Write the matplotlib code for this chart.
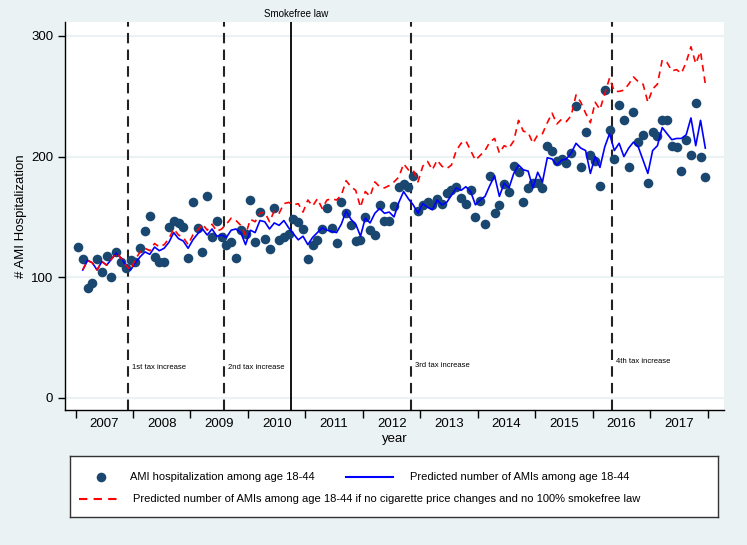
import numpy as np
import matplotlib.pyplot as plt

plt.rcParams['font.family'] = ['Liberation Sans', 'DejaVu Sans']

# monthly data, Jan 2007 .. Dec 2017
years = ['2007', '2008', '2009', '2010', '2011', '2012',
         '2013', '2014', '2015', '2016', '2017']

ami = [125, 115, 91, 95, 115, 104, 118, 100, 121, 113, 108, 114,
       113, 124, 138, 151, 117, 113, 113, 142, 147, 145, 142, 116,
       162, 141, 121, 167, 133, 147, 133, 127, 129, 116, 139, 136,
       164, 129, 154, 132, 123, 157, 131, 133, 136, 148, 146, 140,
       115, 127, 131, 140, 157, 141, 128, 162, 153, 143, 130, 131,
       150, 139, 135, 160, 147, 147, 159, 175, 177, 175, 184, 155,
       160, 162, 160, 165, 161, 170, 172, 175, 166, 161, 172, 150,
       163, 144, 184, 153, 160, 177, 171, 192, 187, 162, 174, 178,
       178, 174, 209, 205, 196, 198, 195, 203, 242, 191, 220, 201,
       196, 176, 255, 222, 198, 243, 230, 191, 237, 212, 218, 178,
       220, 217, 230, 230, 209, 208, 188, 214, 201, 244, 200, 183]

predicted = [np.nan, 106, 114, 112, 106, 113, 110, 115, 120, 116, 110, 106,
             112, 117, 121, 119, 125, 122, 124, 129, 137, 132, 130, 124,
             131, 136, 140, 135, 140, 134, 135, 133, 139, 140, 137, 127,
             139, 137, 147, 146, 140, 145, 143, 147, 141, 136, 131, 134,
             127, 133, 137, 141, 139, 138, 137, 144, 155, 148, 144, 134,
             149, 145, 153, 157, 153, 154, 150, 162, 171, 165, 160, 153,
             161, 158, 156, 164, 160, 162, 168, 174, 172, 175, 171, 160,
             164, 167, 176, 184, 167, 178, 174, 186, 193, 189, 188, 174,
             187, 179, 199, 198, 193, 197, 198, 203, 211, 207, 205, 186,
             200, 191, 208, 219, 205, 211, 200, 207, 212, 208, 197, 186,
             205, 209, 224, 219, 214, 215, 215, 218, 232, 209, 230, 207]

no_policy = [np.nan, 106, 114, 112, 106, 113, 110, 115, 120, 116, 110, 106,
             115, 121, 124, 122, 128, 125, 127, 132, 140, 135, 133, 127,
             135, 139, 144, 139, 144, 138, 140, 144, 149, 147, 143, 135,
             148, 146, 153, 154, 146, 155, 153, 161, 162, 160, 161, 154,
             164, 159, 165, 157, 164, 165, 164, 168, 180, 175, 172, 158,
             171, 167, 179, 175, 174, 176, 179, 183, 194, 189, 189, 179,
             192, 196, 189, 197, 192, 190, 193, 205, 211, 213, 205, 197,
             201, 205, 212, 215, 203, 209, 207, 213, 230, 221, 220, 211,
             218, 219, 228, 236, 227, 231, 229, 234, 251, 245, 236, 228,
             245, 239, 252, 265, 254, 254, 255, 260, 266, 262, 260, 245,
             256, 260, 280, 278, 271, 272, 269, 278, 291, 277, 287, 260]

# policy events (month index)
tax_months = [10.5, 30.5, 69.5, 111.5]
tax_labels = ['1st tax increase', '2nd tax increase', '3rd tax increase', '4th tax increase']
smokefree_month = 44.5

months = np.arange(len(ami))
bg = '#EAF2F3'

fig = plt.figure(figsize=(7.47, 5.45), dpi=100, facecolor=bg)
ax = fig.add_axes([65 / 747, 1 - 410 / 545, 659 / 747, 388 / 545])
ax.set_facecolor('white')

for yv in [0, 100, 200, 300]:
    ax.axhline(yv, color=bg, lw=1.5, zorder=0)

label_y = [25, 25, 27, 30]
for xm, lab, ly in zip(tax_months, tax_labels, label_y):
    ax.axvline(xm, color='#222222', lw=1.5, dashes=(5, 3), zorder=1)
    ax.text(xm + 0.8, ly, lab, fontsize=5.5, va='center', ha='left')
ax.axvline(smokefree_month, color='black', lw=1.3, zorder=1)
ax.text(smokefree_month + 1, 314, 'Smokefree law', fontsize=7, ha='center',
        va='bottom', clip_on=False)

ax.scatter(months, ami, s=48, color='#1a476f', zorder=2, linewidths=0)
ax.plot(months, predicted, color='#0000ff', lw=1.2, zorder=3)
ax.plot(months, no_policy, color='red', lw=1.2, dashes=(4, 3), zorder=4)

ax.set_xlim(-2.7, 134.9)
ax.set_ylim(-10, 311.5)

ax.set_yticks([0, 100, 200, 300])
ax.tick_params(axis='y', labelsize=9.5, length=5, width=1)

bounds = [12 * i - 0.5 for i in range(len(years) + 1)]
ax.set_xticks(bounds)
ax.set_xticklabels([''] * len(bounds))
ax.set_xticks([12 * i + 5.5 for i in range(len(years))], minor=True)
ax.set_xticklabels(years, minor=True)
ax.tick_params(axis='x', which='major', length=6, width=1)
ax.tick_params(axis='x', which='minor', length=0, labelsize=9.5, pad=6)

for s in ['top', 'right']:
    ax.spines[s].set_visible(False)
for s in ['left', 'bottom']:
    ax.spines[s].set_linewidth(1)

ax.set_xlabel('year', fontsize=9.5, labelpad=2)
ax.set_ylabel('# AMI Hospitalization', fontsize=9.5, labelpad=3)

# legend box
lax = fig.add_axes([70 / 747, 1 - 517 / 545, 648 / 747, 61 / 545])
lax.set_xlim(0, 648)
lax.set_ylim(61, 0)
lax.set_xticks([])
lax.set_yticks([])
for s in lax.spines.values():
    s.set_color('#333333')
    s.set_linewidth(1)
lax.scatter([31], [21], s=48, color='#1a476f', linewidths=0)
lax.text(60, 21, 'AMI hospitalization among age 18-44', fontsize=8, va='center')
lax.plot([276, 323], [21, 21], color='#0000ff', lw=1.5)
lax.text(340, 21, 'Predicted number of AMIs among age 18-44', fontsize=8, va='center')
lax.plot([9, 51], [43, 43], color='red', lw=1.5, dashes=(4, 3))
lax.text(63, 43, 'Predicted number of AMIs among age 18-44 if no cigarette price changes and no 100% smokefree law',
         fontsize=8, va='center')

fig.savefig('out.png', dpi=100, facecolor=bg)
